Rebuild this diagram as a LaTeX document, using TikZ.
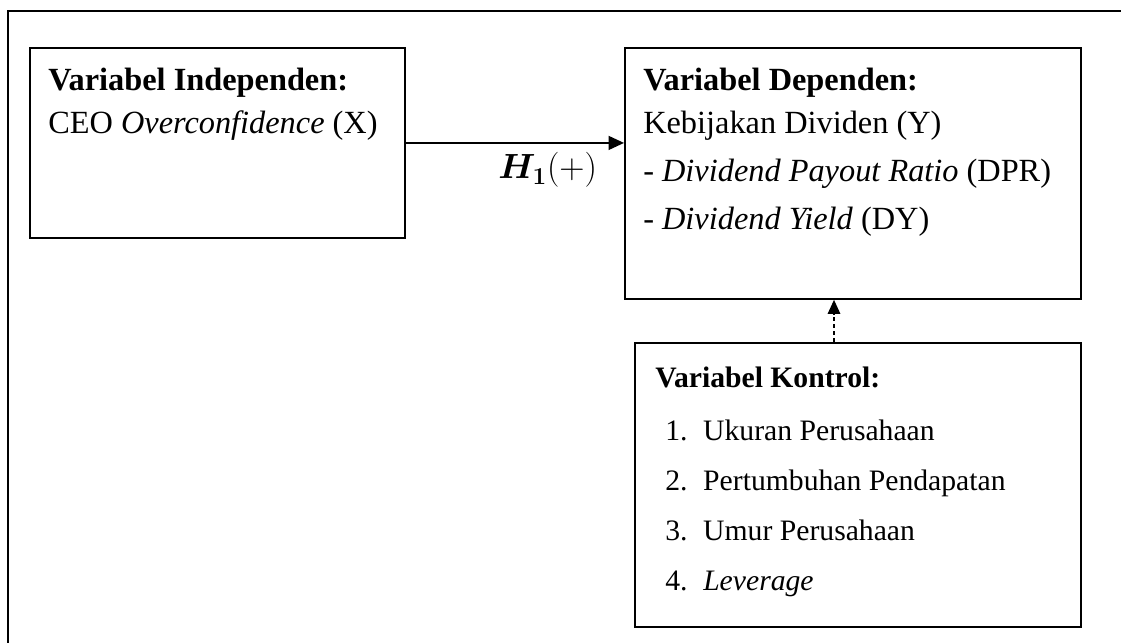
\documentclass[tikz,border=0pt]{standalone}
\usepackage{amsmath,bm}
\usepackage{fontspec}
\setmainfont{Liberation Serif}
\usetikzlibrary{arrows.meta,calc,positioning}

\newcommand{\itemno}[1]{\makebox[27pt][l]{#1.}}

\begin{document}
\begin{tikzpicture}[
    x=0.025cm, y=-0.025cm,
    font=\fontsize{23}{34}\selectfont,
    box/.style={draw, line width=1.3pt, anchor=north west, inner sep=0pt},
    txt/.style={anchor=base west, inner sep=0pt},
    ctrltxt/.style={txt, font=\fontsize{21.1}{34}\selectfont},
    arrow/.style={-{Triangle[length=11pt, width=10pt]}, line width=1pt},
    dasharrow/.style={-{Triangle[length=10pt, width=9pt]}, line width=0.8pt,
      dash pattern=on 3pt off 2pt}
  ]
  \useasboundingbox (0,0) rectangle (1121,643);
  % outer frame (cut off at right and bottom)
  \draw[line width=1.3pt] (8,670) -- (8,11) -- (1150,11);

  \node[box, minimum width=9.375cm, minimum height=4.75cm] (indep) at (29,47) {};
  \node[box, minimum width=11.4cm, minimum height=6.275cm] (dep) at (624,47) {};
  \node[box, minimum width=11.15cm, minimum height=7.1cm] (ctrl) at (634,342) {};

  \node[txt] (indeptitle) at ($(indep.north west)+(19,44)$) {\textbf{Variabel Independen:}};
  \node[txt] (indepvar) at ($(indeptitle.base west)+(0,43)$) {CEO \textit{Overconfidence} (X)};

  \node[txt] (deptitle) at ($(dep.north west)+(19,44)$) {\textbf{Variabel Dependen:}};
  \node[txt] (depvar) at ($(deptitle.base west)+(0,43)$) {Kebijakan Dividen (Y)};
  \node[txt] (dpr) at ($(depvar.base west)+(0,48)$) {- \textit{Dividend Payout Ratio} (DPR)};
  \node[txt] (dy) at ($(dpr.base west)+(0,48)$) {- \textit{Dividend Yield} (DY)};

  \node[ctrltxt] (ctrltitle) at ($(ctrl.north west)+(21,46)$) {\textbf{Variabel Kontrol:}};
  \node[ctrltxt] (size) at ($(ctrltitle.base west)+(10,52)$) {\itemno{1}Ukuran Perusahaan};
  \node[ctrltxt] (growth) at ($(size.base west)+(0,50)$) {\itemno{2}Pertumbuhan Pendapatan};
  \node[ctrltxt] (age) at ($(growth.base west)+(0,50)$) {\itemno{3}Umur Perusahaan};
  \node[ctrltxt] (lev) at ($(age.base west)+(0,50)$) {\itemno{4}\textit{Leverage}};

  \draw[arrow] (indep.east) -- (indep.east -| dep.west)
    node[pos=0.65, below=3pt] (hyp) {$\boldsymbol{H_1}(+)$};
  \coordinate (kontrolup) at (834,0);
  \draw[dasharrow] (kontrolup |- ctrl.north) -- (kontrolup |- dep.south);
\end{tikzpicture}
\end{document}
